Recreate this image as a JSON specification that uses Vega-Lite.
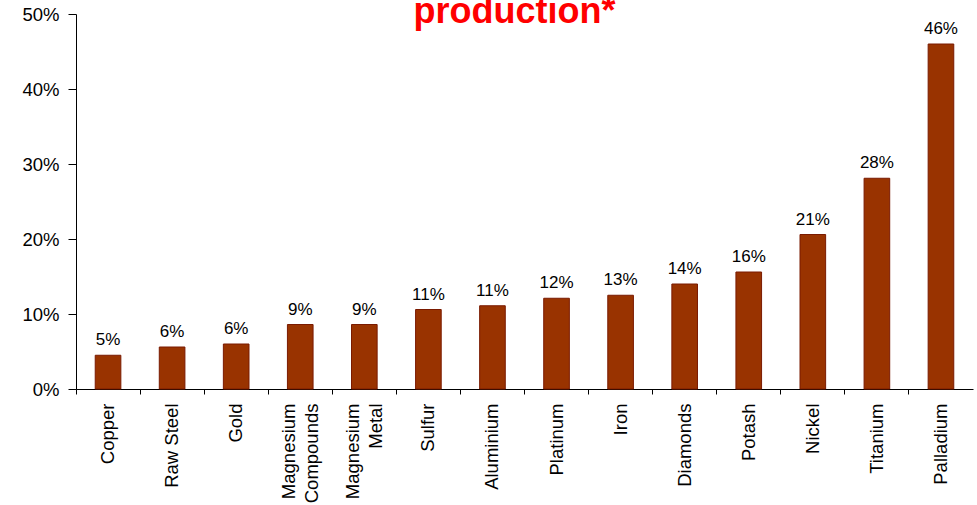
{
  "$schema": "https://vega.github.io/schema/vega-lite/v6.json",
  "width": 897,
  "height": 375,
  "autosize": {"type": "none"},
  "padding": {"left": 76, "top": 14, "right": 4, "bottom": 116},
  "background": "white",
  "title": {
    "text": "production*",
    "color": "#ff0000",
    "font": "Liberation Sans",
    "fontSize": 36,
    "fontWeight": "bold",
    "anchor": "middle",
    "dx": -10,
    "baseline": "alphabetic",
    "offset": -54
  },
  "config": {
    "view": {"stroke": null},
    "font": "Liberation Sans"
  },
  "data": {
    "values": [
      {"mineral": "Copper", "share": 0.045, "label": "5%"},
      {"mineral": "Raw Steel", "share": 0.056, "label": "6%"},
      {"mineral": "Gold", "share": 0.060, "label": "6%"},
      {"mineral": "Magnesium Compounds", "share": 0.086, "label": "9%"},
      {"mineral": "Magnesium Metal", "share": 0.086, "label": "9%"},
      {"mineral": "Sulfur", "share": 0.106, "label": "11%"},
      {"mineral": "Aluminium", "share": 0.111, "label": "11%"},
      {"mineral": "Platinum", "share": 0.121, "label": "12%"},
      {"mineral": "Iron", "share": 0.125, "label": "13%"},
      {"mineral": "Diamonds", "share": 0.140, "label": "14%"},
      {"mineral": "Potash", "share": 0.156, "label": "16%"},
      {"mineral": "Nickel", "share": 0.206, "label": "21%"},
      {"mineral": "Titanium", "share": 0.281, "label": "28%"},
      {"mineral": "Palladium", "share": 0.460, "label": "46%"}
    ]
  },
  "encoding": {
    "x": {
      "field": "mineral",
      "type": "nominal",
      "sort": null,
      "scale": {"paddingInner": 0, "paddingOuter": 0},
      "axis": {
        "title": null,
        "bandPosition": 0,
        "labelAngle": -90,
        "labelAlign": "right",
        "labelBaseline": "middle",
        "labelFontSize": 18.5,
        "labelColor": "#000000",
        "labelFont": "Liberation Sans",
        "labelPadding": 9,
        "labelLineHeight": 23,
        "labelOffset": {"condition": {"test": "indexof(datum.value, 'Magnesium') == 0", "value": -11}, "value": 0},
        "labelExpr": "indexof(datum.label, 'Magnesium') == 0 ? split(datum.label, ' ') : datum.label",
        "tickSize": 5,
        "tickColor": "#000000",
        "domainColor": "#000000",
        "labelLimit": 200
      }
    },
    "y": {
      "field": "share",
      "type": "quantitative",
      "scale": {"domain": [0, 0.5], "nice": false},
      "axis": {
        "title": null,
        "values": [0, 0.1, 0.2, 0.3, 0.4, 0.5],
        "format": ".0%",
        "grid": false,
        "labelFontSize": 18.5,
        "labelColor": "#000000",
        "labelFont": "Liberation Sans",
        "labelPadding": 9,
        "tickSize": 8,
        "tickColor": "#000000",
        "domainColor": "#000000"
      }
    }
  },
  "layer": [
    {
      "mark": {"type": "bar", "color": "#993300", "stroke": "#7a1a00", "strokeWidth": 1, "width": {"band": 0.4}}
    },
    {
      "mark": {"type": "text", "baseline": "alphabetic", "dy": -10, "fontSize": 17, "font": "Liberation Sans", "color": "#000000"},
      "encoding": {"text": {"field": "label"}}
    }
  ]
}
